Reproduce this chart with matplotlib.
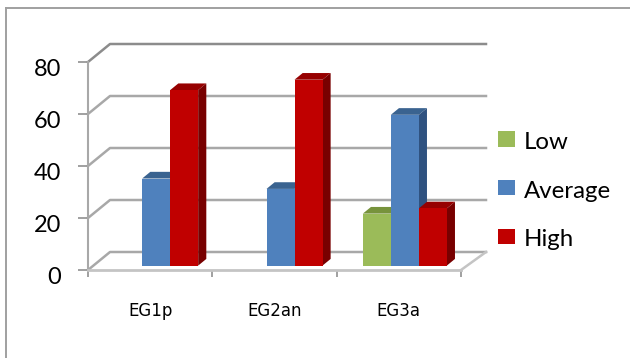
import matplotlib
matplotlib.use('Agg')
import matplotlib.pyplot as plt
import numpy as np
from matplotlib.lines import Line2D
from matplotlib.patches import Polygon
from matplotlib.transforms import Affine2D

categories = ['EG1p', 'EG2an', 'EG3a']
low = [0, 0, 20]
average = [33.5, 29.5, 58]
high = [67.5, 71.5, 22]
y_ticks = [0, 20, 40, 60, 80]

W, H = 630, 358
LEFT, RIGHT, TOP, BOTTOM = 88, 461, 62, 270
GRID = '#a8a8a8'
FONT = 'Lato'

# one unit of depth in data units (back wall sits 22px right, 18px up)
px_x = (RIGHT - LEFT) / 3
px_y = (BOTTOM - TOP) / 80
depth_x = 22 / px_x
depth_y = 18 / px_y
wall_extra = 3 / px_x


def project(x, y, d):
    return x + d * depth_x, y + d * depth_y


fig = plt.figure(figsize=(W / 100, H / 100), dpi=100, facecolor='white')
ax = fig.add_axes([LEFT / W, 1 - BOTTOM / H, (RIGHT - LEFT) / W, (BOTTOM - TOP) / H])
ax.set_xlim(0, 3)
ax.set_ylim(0, 80)
ax.patch.set_visible(False)

# chart frame, open on the right and bottom
frame = dict(color='#a0a0a0', lw=1.4, transform=fig.transFigure)
fig.add_artist(Line2D([6 / W, 6 / W], [0, 1 - 8 / H], **frame))
fig.add_artist(Line2D([6 / W, 1], [1 - 8 / H, 1 - 8 / H], **frame))

# back wall gridlines and their diagonals on the side wall
for v in y_ticks:
    x0, y0 = project(0, v, 0)
    x1, y1 = project(0, v, 1)
    x2, y2 = project(3 + wall_extra, v, 1)
    c = '#8c8c8c' if v == 80 else GRID
    ax.plot([x0, x1, x2], [y0, y1, y2], color=c, lw=1.8, clip_on=False, zorder=1)

# right edge of the floor
x0, y0 = project(3, 0, 0)
x1, y1 = project(3 + wall_extra, 0, 1)
ax.plot([x0, x1], [y0, y1], color='#c4c4c4', lw=1.8, clip_on=False, zorder=1)

bar_w = 28 / px_x
shift = 6 / px_x
lift = 4.4 / px_y
bar_d = 0.37

series = [
    ('Low', low, -1, '#9BBB59', '#77933C', '#5F7530'),
    ('Average', average, 0, '#4F81BD', '#3A6390', '#2F5280'),
    ('High', high, 1, '#C00000', '#960000', '#780000'),
]

handles = []
z = 3
for name, vals, off, face, top_c, side_c in series:
    pos = np.arange(3) + 0.5 + shift + off * bar_w
    for x, v in zip(pos, vals):
        if v == 0:
            continue
        xl, xr = x - bar_w / 2, x + bar_w / 2
        top = lift + v
        dx, dy = bar_d * depth_x, bar_d * depth_y
        ax.add_patch(Polygon([(xl, top), (xr, top), (xr + dx, top + dy), (xl + dx, top + dy)],
                             facecolor=top_c, edgecolor='none', clip_on=False, zorder=z))
        ax.add_patch(Polygon([(xr, lift), (xr + dx, lift + dy), (xr + dx, top + dy), (xr, top)],
                             facecolor=side_c, edgecolor='none', clip_on=False, zorder=z))
    bars = ax.bar(pos, vals, bar_w, bottom=lift, color=face, label=name, clip_on=False, zorder=z + 1)
    handles.append(bars)
    z += 2

# axes
for s in ['top', 'right']:
    ax.spines[s].set_visible(False)
ax.spines['left'].set_color('#a8a8a8')
ax.spines['left'].set_linewidth(1.5)
ax.spines['bottom'].set_color('#c4c4c4')
ax.spines['bottom'].set_linewidth(2)
ax.spines['left'].set_zorder(2)
ax.spines['bottom'].set_zorder(2)

ax.set_yticks(y_ticks)
ax.tick_params(axis='y', length=7.2, width=1.2, color='#909090', pad=12,
               labelsize=17, labelcolor='black')
for label in ax.get_yticklabels():
    label.set_fontfamily(FONT)
    label.set_transform(label.get_transform() + Affine2D().translate(0, -5))

ax.set_xticks([0, 1, 2, 3])
ax.set_xticklabels([])
ax.set_xticks([0.5, 1.5, 2.5], minor=True)
ax.set_xticklabels(categories, minor=True, fontfamily='DejaVu Sans', fontsize=12)
ax.tick_params(axis='x', which='major', length=5, width=1.2, color='#909090')
ax.tick_params(axis='x', which='minor', length=0, pad=23, labelcolor='black')

leg = fig.legend(handles, ['Low', 'Average', 'High'], loc='center left',
                 bbox_to_anchor=(498 / W, 1 - 191 / H), frameon=False,
                 prop={'family': FONT, 'size': 17.3}, handlelength=0.72, handleheight=0.6,
                 handletextpad=0.34, labelspacing=1.15, borderpad=0, borderaxespad=0)
# swatches sit a little above the text centre
for patch in leg.get_patches():
    patch.set_y(patch.get_y() + 1)

fig.savefig('out.png', dpi=100)
